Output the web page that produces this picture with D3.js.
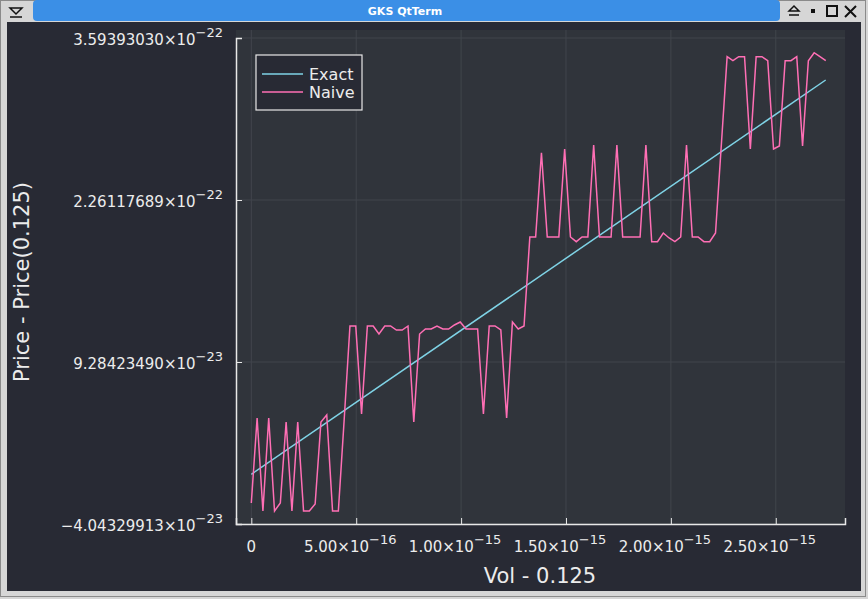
<!DOCTYPE html>
<html>
<head>
<meta charset="utf-8">
<script src="https://cdn.jsdelivr.net/npm/d3@7"></script>
<style>
  body { margin: 0; background: #d6d6d6; }
  svg { display: block; font-family: "DejaVu Sans", sans-serif; }
</style>
</head>
<body>
<svg id="chart"></svg>
<script>
// data (x step for the naive grid, y values in units of 1e-23)
const xStep = 2.766e-17;
const naiveVals = [
  -2.316, 4.677, -2.974, 4.677, -2.974, -2.316, 4.348, -2.974, 4.348, -2.974,
  -2.974, -2.398, 4.348, 4.924, -2.974, -2.974, 4.513, 12.246, 12.246, 5.006,
  12.246, 12.246, 11.588, 12.246, 12.246, 11.917, 11.917, 12.246, 4.348, 11.588,
  11.999, 11.999, 12.246, 11.999, 11.999, 12.328, 12.575, 11.999, 11.999, 11.999,
  5.006, 12.246, 12.246, 11.917, 4.677, 12.575, 11.999, 12.246, 19.568, 19.568,
  26.503, 19.568, 19.568, 19.568, 26.807, 19.568, 19.181, 19.568, 19.568, 27.136,
  19.568, 19.568, 19.568, 27.136, 19.568, 19.568, 19.568, 19.568, 27.136, 19.181,
  19.181, 19.897, 19.485, 19.181, 19.568, 27.136, 19.568, 19.568, 19.181, 19.181,
  19.897, 27.136, 34.401, 34.072, 34.401, 34.401, 26.807, 34.401, 34.401, 34.072,
  26.807, 27.054, 34.072, 34.072, 34.401, 27.054, 34.072, 34.730, 34.401, 34.072
];
const exactX = [0, 2.738e-15];
const exactVals = [0.045, 32.484];
const seriesNames = ["Exact", "Naive"];
const seriesColors = ["#7fd3e6", "#ff6fb5"];
const xTicks = [0, 5e-16, 1e-15, 1.5e-15, 2e-15, 2.5e-15];
const xTickLabels = [["0", ""], ["5.00×10", "−16"], ["1.00×10", "−15"], ["1.50×10", "−15"], ["2.00×10", "−15"], ["2.50×10", "−15"]];
const yTicks = [-4.04329913e-23, 9.28423490e-23, 2.26117689e-22, 3.59393030e-22];
const yTickLabels = [["−4.04329913×10", "−23"], ["9.28423490×10", "−23"], ["2.26117689×10", "−22"], ["3.59393030×10", "−22"]];

const width = 868, height = 599;
const mLeft = 236, mRight = 845, mTop = 38, mBottom = 524;

const svg = d3.select("#chart").attr("width", width).attr("height", height);

// window chrome
svg.append("rect").attr("x", 0).attr("y", 0).attr("width", width).attr("height", height).attr("fill", "#d6d6d6");
svg.append("rect").attr("x", 0.5).attr("y", 0.5).attr("width", width - 3).attr("height", height - 3)
  .attr("fill", "none").attr("stroke", "#8a8a8a");
svg.append("rect").attr("x", 33).attr("y", 0).attr("width", 747).attr("height", 21).attr("rx", 4).attr("fill", "#3b8fe6");
svg.append("text").attr("x", 405).attr("y", 15).attr("text-anchor", "middle").attr("fill", "#fff")
  .attr("font-size", 11).attr("font-weight", "bold").text("GKS QtTerm");
svg.append("path").attr("d", "M10,8H22L16,14Z").attr("fill", "none").attr("stroke", "#111").attr("stroke-width", 1.5);
svg.append("line").attr("x1", 10).attr("x2", 22).attr("y1", 17).attr("y2", 17).attr("stroke", "#111").attr("stroke-width", 1.5);
svg.append("path").attr("d", "M789,11L794,6L799,11Z").attr("fill", "none").attr("stroke", "#111").attr("stroke-width", 1.5);
svg.append("line").attr("x1", 789).attr("x2", 799).attr("y1", 15).attr("y2", 15).attr("stroke", "#111").attr("stroke-width", 1.5);
svg.append("rect").attr("x", 811).attr("y", 9).attr("width", 4).attr("height", 4).attr("fill", "#111");
svg.append("rect").attr("x", 827).attr("y", 6).attr("width", 10).attr("height", 10).attr("fill", "none").attr("stroke", "#111").attr("stroke-width", 2);
svg.append("path").attr("d", "M845,6L856,17M856,6L845,17").attr("stroke", "#111").attr("stroke-width", 2);
svg.append("rect").attr("x", 7).attr("y", 22).attr("width", 854).attr("height", 569).attr("fill", "#282a34");

// plot area
svg.append("rect").attr("x", mLeft).attr("y", mTop - 8).attr("width", mRight - mLeft).attr("height", mBottom - mTop + 8).attr("fill", "#30343b");

const x = d3.scaleLinear().domain([-7.3e-17, 2.83e-15]).range([mLeft, mRight]);
const y = d3.scaleLinear().domain([yTicks[0], yTicks[3]]).range([mBottom, mTop]);

// grid
svg.append("g").selectAll("line").data(xTicks).join("line")
  .attr("x1", d => x(d)).attr("x2", d => x(d)).attr("y1", mTop - 8).attr("y2", mBottom)
  .attr("stroke", "#41454c");
svg.append("g").selectAll("line").data(yTicks).join("line")
  .attr("x1", mLeft).attr("x2", mRight).attr("y1", d => y(d)).attr("y2", d => y(d))
  .attr("stroke", "#41454c");

// axes
svg.append("g").attr("transform", `translate(0,${mBottom})`)
  .call(d3.axisBottom(x).tickValues(xTicks).tickSize(-6).tickFormat(""))
  .call(g => g.select(".domain").attr("stroke", "#e8e8e8").attr("stroke-width", 1.5))
  .call(g => g.selectAll(".tick line").attr("stroke", "#e8e8e8"));
svg.append("g").attr("transform", `translate(${mLeft},0)`)
  .call(d3.axisLeft(y).tickValues(yTicks).tickSize(-6).tickFormat(""))
  .call(g => g.select(".domain").attr("stroke", "#e8e8e8").attr("stroke-width", 1.5))
  .call(g => g.selectAll(".tick line").attr("stroke", "#e8e8e8"));

// tick labels
const xl = svg.append("g").selectAll("text").data(xTicks).join("text")
  .attr("x", d => x(d) + (d === 0 ? 0 : -6)).attr("y", 552)
  .attr("text-anchor", "middle").attr("fill", "#ececec").attr("font-size", 15);
xl.append("tspan").text((d, i) => xTickLabels[i][0]);
xl.append("tspan").attr("dy", -8).attr("font-size", 13).text((d, i) => xTickLabels[i][1]);

const yl = svg.append("g").selectAll("text").data(yTicks).join("text")
  .attr("x", 223).attr("y", d => y(d) + 7)
  .attr("text-anchor", "end").attr("fill", "#ececec").attr("font-size", 15);
yl.append("tspan").text((d, i) => yTickLabels[i][0]);
yl.append("tspan").attr("dy", -8).attr("font-size", 13).text((d, i) => yTickLabels[i][1]);

// axis titles
svg.append("text").attr("x", 540).attr("y", 583).attr("text-anchor", "middle")
  .attr("fill", "#ececec").attr("font-size", 21).text("Vol - 0.125");
svg.append("text").attr("transform", "translate(29,282) rotate(-90)").attr("text-anchor", "middle")
  .attr("fill", "#ececec").attr("font-size", 21).text("Price - Price(0.125)");

// lines
const line = d3.line().x(d => x(d[0])).y(d => y(d[1] * 1e-23));
svg.append("path").datum(exactX.map((v, i) => [v, exactVals[i]]))
  .attr("d", line).attr("fill", "none").attr("stroke", seriesColors[0]).attr("stroke-width", 1.5);
svg.append("path").datum(naiveVals.map((v, i) => [i * xStep, v]))
  .attr("d", line).attr("fill", "none").attr("stroke", seriesColors[1]).attr("stroke-width", 1.5);

// legend
const lg = svg.append("g");
lg.append("rect").attr("x", 256).attr("y", 55).attr("width", 106).attr("height", 55)
  .attr("fill", "#282a34").attr("stroke", "#e8e8e8").attr("stroke-width", 1.2);
seriesNames.forEach((name, i) => {
  lg.append("line").attr("x1", 262).attr("x2", 303).attr("y1", 74 + i * 18).attr("y2", 74 + i * 18)
    .attr("stroke", seriesColors[i]).attr("stroke-width", 1.5);
  lg.append("text").attr("x", 309).attr("y", 80 + i * 18).attr("fill", "#ececec").attr("font-size", 16).text(name);
});
</script>
</body>
</html>
